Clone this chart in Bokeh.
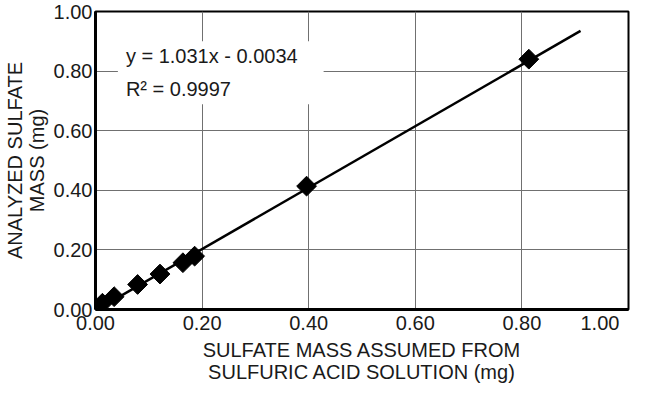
import numpy as np
from bokeh.plotting import figure
from bokeh.models import FixedTicker, PrintfTickFormatter, Label, BoxAnnotation
from bokeh.embed import file_html
from bokeh.resources import INLINE

# data
assumed_mass = [0.013, 0.035, 0.079, 0.121, 0.164, 0.186, 0.396, 0.813]
analyzed_mass = [0.021, 0.043, 0.084, 0.119, 0.157, 0.179, 0.414, 0.840]
fit_slope = 1.031
fit_intercept = -0.0034
fit_x = [0.0, 0.91]
fit_y = [fit_slope * v + fit_intercept for v in fit_x]
ticks = [0.0, 0.2, 0.4, 0.6, 0.8, 1.0]
eq_text = "y = 1.031x - 0.0034"
r2_text = "R\u00b2 = 0.9997"
x_title = "SULFATE MASS ASSUMED FROM\nSULFURIC ACID SOLUTION (mg)"
y_title = "ANALYZED SULFATE\nMASS (mg)"

FONT = "Liberation Sans"
TXT = "#1a1a1a"
FS = "20px"

p = figure(width=630, height=385, x_range=(0, 1), y_range=(0, 1),
           output_backend="svg", toolbar_location=None,
           min_border_left=92, min_border_right=2, min_border_top=11,
           min_border_bottom=0)

p.outline_line_color = "black"
p.outline_line_width = 2
p.outline_line_alpha = 1
p.background_fill_color = "white"
p.border_fill_color = "white"

for ax in (p.xaxis[0], p.yaxis[0]):
    ax.ticker = FixedTicker(ticks=ticks)
    ax.formatter = PrintfTickFormatter(format="%.2f")
    ax.axis_line_color = "black"
    ax.axis_line_width = 3
    ax.major_tick_in = 0
    ax.major_tick_out = 0
    ax.minor_tick_line_color = None
    ax.major_label_text_font = FONT
    ax.major_label_text_font_size = FS
    ax.major_label_text_color = TXT
    ax.axis_label_text_font = FONT
    ax.axis_label_text_font_size = FS
    ax.axis_label_text_font_style = "normal"
    ax.axis_label_text_color = TXT
    ax.axis_label_text_line_height = 1.0

p.xaxis.axis_label = x_title
p.yaxis.axis_label = y_title
p.xaxis.major_label_standoff = 2
p.yaxis.major_label_standoff = 3
p.xaxis.axis_label_standoff = 2
p.yaxis.axis_label_standoff = 3
# right-align the last x tick label with the frame edge
p.xaxis.major_label_overrides = {1.0: "1.00" + " " * 2}

p.grid.grid_line_color = "#707070"
p.grid.grid_line_width = 1
p.xgrid.ticker = FixedTicker(ticks=ticks)
p.ygrid.ticker = FixedTicker(ticks=ticks)

p.line(fit_x, fit_y, line_color="black", line_width=2.5)
p.scatter(assumed_mass, analyzed_mass, marker="square", size=14,
          angle=np.pi / 4, fill_color="black", line_color="black")

box = BoxAnnotation(left=0.042, right=0.428, bottom=0.689, top=0.90,
                    fill_color="white", fill_alpha=1, line_color=None)
p.add_layout(box)

p.add_layout(Label(x=0.057, y=0.849, text=eq_text, text_font=FONT,
                   text_font_size=FS, text_color=TXT,
                   text_baseline="middle"))
p.add_layout(Label(x=0.057, y=0.741, text=r2_text, text_font=FONT,
                   text_font_size=FS, text_color=TXT,
                   text_baseline="middle"))

open("out.html", "w").write(file_html(p, INLINE))
